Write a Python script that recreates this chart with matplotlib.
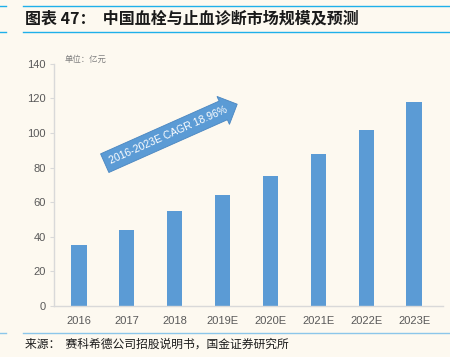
import matplotlib
matplotlib.use("Agg")
import matplotlib.pyplot as plt
from matplotlib.lines import Line2D

plt.rcParams['font.family'] = ['Liberation Sans', 'Noto Sans CJK SC', 'DejaVu Sans']

# data
years = ["2016", "2017", "2018", "2019E", "2020E", "2021E", "2022E", "2023E"]
market = [35, 44, 55, 64, 75, 88, 102, 118]
yticks = [0, 20, 40, 60, 80, 100, 120, 140]

title = "图表 47：  中国血栓与止血诊断市场规模及预测"
source = "来源：  赛科希德公司招股说明书，国金证券研究所"
unit = "单位：亿元"
cagr = "2016-2023E CAGR 18.96%"

bg = "#fdf9f0"
bar_color = "#5b9bd5"
line_blue = "#1fb0ea"

fig = plt.figure(figsize=(4.5, 3.57), dpi=100, facecolor=bg)
ax = fig.add_axes([0.12, 0.143, 0.864, 0.678], facecolor=bg)

x = range(len(years))
ax.bar(x, market, width=0.32, color=bar_color)
ax.set_xlim(-0.52, 7.6)
ax.set_ylim(0, 140)
ax.set_yticks(yticks)
ax.set_xticks(list(x))
ax.set_xticklabels(years)

for s in ["top", "right"]:
    ax.spines[s].set_visible(False)
for s in ["left", "bottom"]:
    ax.spines[s].set_color("#d9d9d9")
    ax.spines[s].set_linewidth(1.0)
ax.tick_params(axis="y", length=3, color="#d9d9d9", labelsize=8, labelcolor="#595959", pad=3)
ax.tick_params(axis="x", length=0, labelsize=8, labelcolor="#595959", pad=7)

# unit label
fig.text(65 / 450, 1 - 59 / 357, unit, fontsize=6, color="#7f7f7f",
         family=['Noto Sans CJK SC'], va="center", ha="left")

# CAGR arrow
fig.text(168 / 450, 1 - 135 / 357, cagr, fontsize=7.5, color="white",
         rotation=24, ha="center", va="center", rotation_mode="anchor",
         bbox=dict(boxstyle="rarrow,pad=0.5", fc=bar_color, ec="#4a86c0", lw=0.6))

# title and rules
fig.add_artist(Line2D([23 / 450, 1], [1 - 6 / 357] * 2, color=line_blue, lw=1.0))
fig.add_artist(Line2D([0, 6 / 450], [1 - 6 / 357] * 2, color=line_blue, lw=1.0))
fig.add_artist(Line2D([23 / 450, 1], [1 - 32 / 357] * 2, color=line_blue, lw=1.0))
fig.add_artist(Line2D([0, 6 / 450], [1 - 32 / 357] * 2, color=line_blue, lw=1.0))
fig.text(25 / 450, 1 - 19 / 357, title, fontsize=11.5, fontweight="bold",
         fontstyle="italic", color="#1a1a1a", family=['Noto Sans CJK SC', 'DejaVu Sans'],
         va="center", ha="left")

fig.add_artist(Line2D([23 / 450, 1], [1 - 333 / 357] * 2, color="#8cc6ea", lw=1.0))
fig.add_artist(Line2D([0, 6 / 450], [1 - 333 / 357] * 2, color="#8cc6ea", lw=1.0))
fig.text(25 / 450, 1 - 344 / 357, source, fontsize=8.5, color="#1a1a1a",
         family=['Noto Sans CJK SC', 'DejaVu Sans'], va="center", ha="left")

fig.savefig("out.png", dpi=100, facecolor=bg)
